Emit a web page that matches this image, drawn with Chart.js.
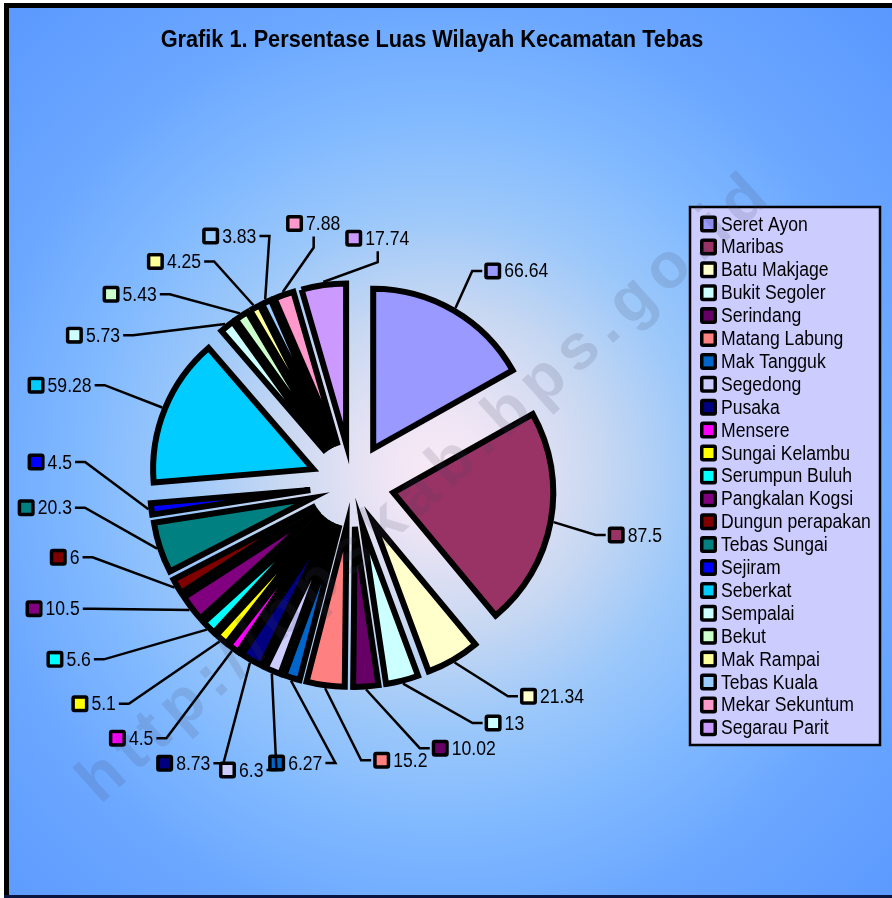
<!DOCTYPE html>
<html>
<head>
<meta charset="utf-8">
<title>Grafik 1. Persentase Luas Wilayah Kecamatan Tebas</title>
<script src="https://cdn.jsdelivr.net/npm/chart.js@4.4.1/dist/chart.umd.min.js"></script>
<style>
  html, body { margin: 0; padding: 0; background: #fff; }
  #wrap { width: 892px; height: 898px; }
</style>
</head>
<body>
<div id="wrap"><canvas id="pieChart" width="892" height="898"></canvas></div>
<script>
// Data
const chartTitle = 'Grafik 1. Persentase Luas Wilayah Kecamatan Tebas';
const watermark = 'http://bpskab.bps.go.id';

const categories = [
    'Seret Ayon', 'Maribas', 'Batu Makjage', 'Bukit Segoler', 'Serindang',
    'Matang Labung', 'Mak Tangguk', 'Segedong', 'Pusaka', 'Mensere',
    'Sungai Kelambu', 'Serumpun Buluh', 'Pangkalan Kogsi', 'Dungun perapakan',
    'Tebas Sungai', 'Sejiram', 'Seberkat', 'Sempalai', 'Bekut', 'Mak Rampai',
    'Tebas Kuala', 'Mekar Sekuntum', 'Segarau Parit'
];
const values = [
    66.64, 87.5, 21.34, 13, 10.02,
    15.2, 6.27, 6.3, 8.73, 4.5,
    5.1, 5.6, 10.5, 6,
    20.3, 4.5, 59.28, 5.73, 5.43, 4.25,
    3.83, 7.88, 17.74
];
const colors = [
    '#9999FF', '#993366', '#FFFFCC', '#CCFFFF', '#660066',
    '#FF8080', '#0066CC', '#CCCCFF', '#000080', '#FF00FF',
    '#FFFF00', '#00FFFF', '#800080', '#800000',
    '#008080', '#0000FF', '#00CCFF', '#CCFFFF', '#CCFFCC', '#FFFF99',
    '#99CCFF', '#FF99CC', '#CC99FF'
];

// Layout settings
const FONT = '"Liberation Sans", Arial, Helvetica, sans-serif';
const SQUISH = 0.88;     // text in the original is a bit condensed
const PIE_R = 160;       // drawn radius of every slice
const EXPLODE = 42;      // distance each slice is pulled out
const KEY = 17;

function squishText(ctx, text, x, y, sx) {
    ctx.save();
    ctx.translate(x, y);
    ctx.scale(sx, 1);
    ctx.fillText(text, 0, 0);
    ctx.restore();
}

function drawKey(ctx, x, y, color) {
    ctx.fillStyle = '#000';
    ctx.beginPath();
    ctx.roundRect(x, y - KEY / 2, KEY, KEY, 3);
    ctx.fill();
    ctx.fillStyle = color;
    ctx.fillRect(x + 3.5, y - KEY / 2 + 3.5, KEY - 7, KEY - 7);
}

function norm(deg) {
    return ((deg % 360) + 360) % 360;
}

// where a label sits for a given angle (degrees, clockwise from top)
function labelAnchor(cx, cy, deg) {
    const r = deg * Math.PI / 180;
    const s = Math.sin(r), c = Math.cos(r);
    let rx, ry;
    if (s >= 0) {
        rx = 258;
        ry = c > 0 ? 248 : 276;
    } else {
        // lower-left labels sit further out, as in the spreadsheet layout
        const t = norm(deg);
        const by = t > 180 && t < 270 ? 50 * Math.sin((t - 180) * 2 * Math.PI / 180) : 0;
        const bx = t > 180 && t < 255 ? 45 * Math.sin((t - 180) / 75 * Math.PI) : 0;
        rx = 278 + bx;
        ry = (c > 0 ? 264 : 270) + by;
    }
    return { x: cx + rx * s, y: cy - ry * c };
}

// minimum angle between neighbouring labels
function minGap(deg) {
    const t = norm(deg);
    return t > 280 || t < 5 ? 11.5 : 9.5;
}

// Blue frame + gradient behind everything
const backgroundPlugin = {
    id: 'background',
    beforeDraw(chart) {
        const ctx = chart.ctx;
        const W = chart.width, H = chart.height;
        ctx.save();
        ctx.fillStyle = '#fff';
        ctx.fillRect(0, 0, W, H);
        const g = ctx.createRadialGradient(440, 470, 0, 440, 470, 640);
        g.addColorStop(0, '#FAEAF6');
        g.addColorStop(0.1, '#ECE4F4');
        g.addColorStop(0.25, '#C8D8F2');
        g.addColorStop(0.4, '#9CC8FA');
        g.addColorStop(0.55, '#82BAFF');
        g.addColorStop(0.72, '#6CA8FF');
        g.addColorStop(1, '#5A98FF');
        ctx.fillStyle = g;
        ctx.fillRect(9, 8, W - 9, H - 10);
        ctx.fillStyle = '#000';
        ctx.fillRect(4, 3, 5, H - 3);
        ctx.fillRect(4, 3, W - 4, 5);
        ctx.fillStyle = '#0A1440';
        ctx.fillRect(4, H - 3, W - 4, 3);
        ctx.restore();
    }
};

// Chart.js grows and narrows small exploded slices; undo that so
// every slice keeps radius PIE_R and its true angle
const radiusFixPlugin = {
    id: 'radiusFix',
    afterDatasetsUpdate(chart) {
        chart.getDatasetMeta(0).data.forEach(arc => {
            const fix = 1 - Math.sin(Math.min(Math.PI, arc.circumference));
            const ro = EXPLODE * fix;
            arc.outerRadius = PIE_R - ro;
            const widen = ro / (Math.PI * PIE_R) / 2;
            arc.startAngle -= widen;
            arc.endAngle += widen;
        });
    }
};

// Value labels with leader lines
const calloutPlugin = {
    id: 'callouts',
    afterDatasetsDraw(chart) {
        const ctx = chart.ctx;
        const meta = chart.getDatasetMeta(0);
        const cx = meta.data[0].x, cy = meta.data[0].y;
        ctx.save();
        ctx.font = '20px ' + FONT;

        const items = meta.data.map((arc, i) => {
            const mid = (arc.startAngle + arc.endAngle) / 2;
            const text = String(values[i]);
            return {
                i, arc, mid, text,
                angle: mid * 180 / Math.PI + 90,
                w: KEY + 4 + ctx.measureText(text).width * SQUISH
            };
        });

        function place(it) {
            const r = it.angle * Math.PI / 180;
            const a = labelAnchor(cx, cy, it.angle);
            const s = Math.sin(r);
            it.ax = a.x;
            it.ay = a.y;
            it.mode = Math.abs(s) < 0.15 && Math.cos(r) > 0 ? 'top' : (s >= 0 ? 'right' : 'left');
            if (it.mode === 'top') {
                it.x0 = it.ax - it.w / 2;
            } else {
                it.x0 = it.mode === 'right' ? it.ax + 2 : it.ax - 2 - it.w;
            }
            it.x1 = it.x0 + it.w;
            it.y0 = it.ay - 11;
            it.y1 = it.ay + 11;
        }
        function overlaps(a, b) {
            return a.x0 < b.x1 + 3 && b.x0 < a.x1 + 3 && a.y0 < b.y1 + 3 && b.y0 < a.y1 + 3;
        }

        const n = items.length;
        items.forEach(place);
        for (let iter = 0; iter < 4000; iter++) {
            let moved = false;
            for (let k = 0; k < n; k++) {
                const a = items[k], b = items[(k + 1) % n];
                let gap = b.angle - a.angle;
                if (k === n - 1) gap += 360;
                if (gap < minGap(b.angle) || overlaps(a, b)) {
                    a.angle -= 0.2;
                    b.angle += 0.2;
                    place(a);
                    place(b);
                    moved = true;
                }
            }
            if (!moved) break;
        }

        items.forEach(it => {
            const dx = Math.cos(it.mid), dy = Math.sin(it.mid);
            const ox = it.arc.x + dx * EXPLODE, oy = it.arc.y + dy * EXPLODE;
            const px = ox + dx * (PIE_R + 3), py = oy + dy * (PIE_R + 3);

            ctx.strokeStyle = '#000';
            ctx.lineWidth = 2.5;
            ctx.lineJoin = 'miter';
            ctx.beginPath();
            ctx.moveTo(px, py);
            if (it.mode === 'top') {
                ctx.lineTo(it.ax, it.ay + 24);
                ctx.lineTo(it.ax, it.ay + 13);
            } else {
                const ex = it.mode === 'right' ? it.ax - 10 : it.ax + 10;
                ctx.lineTo(ex, it.ay);
                ctx.lineTo(it.ax, it.ay);
            }
            ctx.stroke();

            drawKey(ctx, it.x0, it.ay, colors[it.i]);
            ctx.fillStyle = '#000';
            ctx.textAlign = 'left';
            ctx.textBaseline = 'middle';
            squishText(ctx, it.text, it.x0 + KEY + 3, it.ay + 1, SQUISH);
        });
        ctx.restore();
    }
};

// Title, boxed legend and the watermark on top
const decorPlugin = {
    id: 'decor',
    afterDraw(chart) {
        const ctx = chart.ctx;
        ctx.save();

        ctx.fillStyle = '#000';
        ctx.font = 'bold 24px ' + FONT;
        ctx.textAlign = 'center';
        ctx.textBaseline = 'middle';
        squishText(ctx, chartTitle, 432, 40, 0.905);

        // legend box
        const lx = 690, ly = 207, lw = 190, lh = 538;
        ctx.fillStyle = '#CCCCFF';
        ctx.fillRect(lx, ly, lw, lh);
        ctx.strokeStyle = '#000';
        ctx.lineWidth = 2.5;
        ctx.strokeRect(lx, ly, lw, lh);
        ctx.font = '20px ' + FONT;
        ctx.textAlign = 'left';
        categories.forEach((name, i) => {
            const y = ly + 17 + i * 22.9;
            drawKey(ctx, lx + 10, y, colors[i]);
            ctx.fillStyle = '#000';
            squishText(ctx, name, lx + 31, y + 1, SQUISH);
        });

        // watermark
        ctx.translate(100, 805);
        ctx.rotate(-42 * Math.PI / 180);
        ctx.font = 'bold 64px ' + FONT;
        ctx.letterSpacing = '9px';
        ctx.textAlign = 'left';
        ctx.textBaseline = 'alphabetic';
        ctx.fillStyle = 'rgba(70, 70, 95, 0.15)';
        ctx.fillText(watermark, 0, 0);
        ctx.restore();
    }
};

const pieCtx = document.getElementById('pieChart').getContext('2d');
new Chart(pieCtx, {
    type: 'pie',
    data: {
        labels: categories,
        datasets: [{
            data: values,
            backgroundColor: colors,
            borderColor: '#000',
            borderWidth: 6,
            borderJoinStyle: 'miter',
            offset: EXPLODE * 4,
            clip: false
        }]
    },
    options: {
        responsive: false,
        animation: false,
        events: [],
        radius: PIE_R,
        layout: {
            padding: { left: 20, right: 208, top: 85, bottom: 13 }
        },
        plugins: {
            legend: { display: false },
            title: { display: false },
            tooltip: { enabled: false }
        }
    },
    plugins: [backgroundPlugin, radiusFixPlugin, calloutPlugin, decorPlugin]
});
</script>
</body>
</html>
